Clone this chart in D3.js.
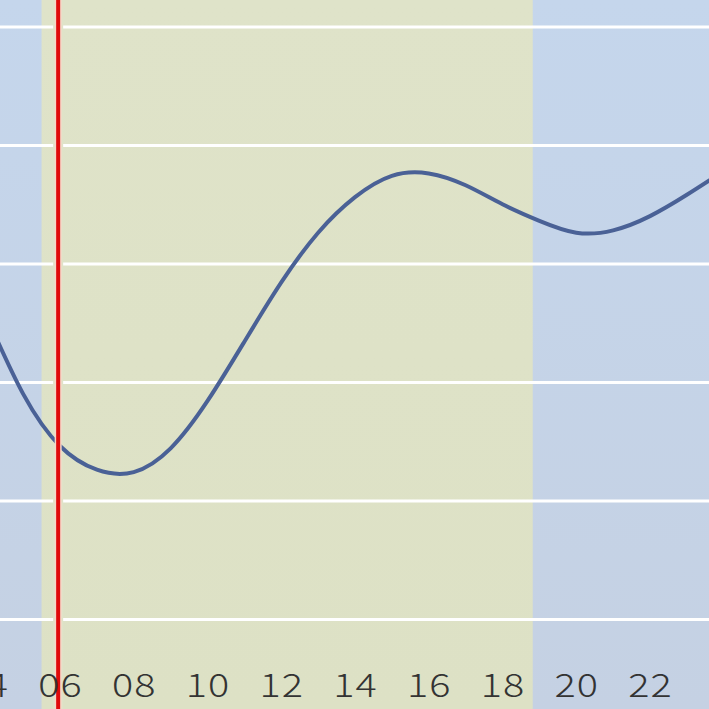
<!DOCTYPE html>
<html>
<head>
<meta charset="utf-8">
<script src="https://cdn.jsdelivr.net/npm/d3@7"></script>
<style>
html,body{margin:0;padding:0;background:#c6d5ea;}
svg{display:block;}
</style>
</head>
<body>
<div id="chart"></div>
<script>
// ---- data ----
const hours = [4,5,6,7,8,9,10,11,12,13,14,15,16,17,18,19,20,21,22,23,24];
const levels = [128,95,73,63,62,72,92,117,142,163,178,187,188,183,175,168,163,164,170,179,189];
const tickHours = [4,6,8,10,12,14,16,18,20,22];
const tickLabels = ["04","06","08","10","12","14","16","18","20","22"];
const gridValues = [0,50,100,150,200,250];
const sunrise = 5.5;
const sunset = 18.82;
const nowHour = 5.95;

const W = 709, H = 709;
const x = d3.scaleLinear().domain([6,22]).range([60,650]);
const y = d3.scaleLinear().domain([0,250]).range([619,26.5]);

const svg = d3.select("#chart").append("svg").attr("width",W).attr("height",H);
const defs = svg.append("defs");
const gb = defs.append("linearGradient").attr("id","bgBlue").attr("x1",0).attr("y1",0).attr("x2",0).attr("y2",1);
gb.append("stop").attr("offset","0%").attr("stop-color","#c5d6ec");
gb.append("stop").attr("offset","100%").attr("stop-color","#c5d1e3");
const gy = defs.append("linearGradient").attr("id","bgYellow").attr("x1",0).attr("y1",0).attr("x2",0).attr("y2",1);
gy.append("stop").attr("offset","0%").attr("stop-color","#dfe3c9");
gy.append("stop").attr("offset","100%").attr("stop-color","#dde1c5");

svg.append("rect").attr("x",0).attr("y",0).attr("width",W).attr("height",H).attr("fill","url(#bgBlue)");
svg.append("rect").attr("x",x(sunrise)).attr("y",0)
  .attr("width",x(sunset)-x(sunrise)).attr("height",H).attr("fill","url(#bgYellow)");

// grid lines
const grid = svg.append("g").attr("class","grid")
  .call(d3.axisRight(y).tickValues(gridValues).tickSize(W).tickFormat(""));
grid.select(".domain").remove();
grid.selectAll("line").attr("stroke","#ffffff").attr("stroke-width",3);

// gap around the "now" line
svg.append("line").attr("x1",x(nowHour)).attr("x2",x(nowHour)).attr("y1",0).attr("y2",H)
  .attr("stroke","#dfe3c8").attr("stroke-width",10);

// tide curve
const line = d3.line().x((d,i)=>x(hours[i])).y(d=>y(d)).curve(d3.curveNatural);
svg.append("path").datum(levels).attr("d",line)
  .attr("fill","none").attr("stroke","#4a6196").attr("stroke-width",4);

// now line
svg.append("line").attr("x1",x(nowHour)).attr("x2",x(nowHour)).attr("y1",0).attr("y2",H)
  .attr("stroke","#f6d8c8").attr("stroke-width",7);
svg.append("line").attr("x1",x(nowHour)).attr("x2",x(nowHour)).attr("y1",0).attr("y2",H)
  .attr("stroke","#e00a0a").attr("stroke-width",4);

// x labels
const xa = svg.append("g").attr("transform","translate(0,697)")
  .call(d3.axisBottom(x).tickValues(tickHours).tickSize(0).tickPadding(0)
    .tickFormat((d,i)=>tickLabels[i]));
xa.select(".domain").remove();
xa.selectAll("text")
  .attr("y",0).attr("dy",0)
  .attr("transform","scale(1.2,1)")
  .attr("fill","#333333")
  .style("font-family","'Noto Sans CJK JP','Noto Sans',sans-serif")
  .style("font-weight","300")
  .style("font-size","33px")
  .style("font-variant-numeric","tabular-nums")
  .style("letter-spacing","1px");
</script>
</body>
</html>
